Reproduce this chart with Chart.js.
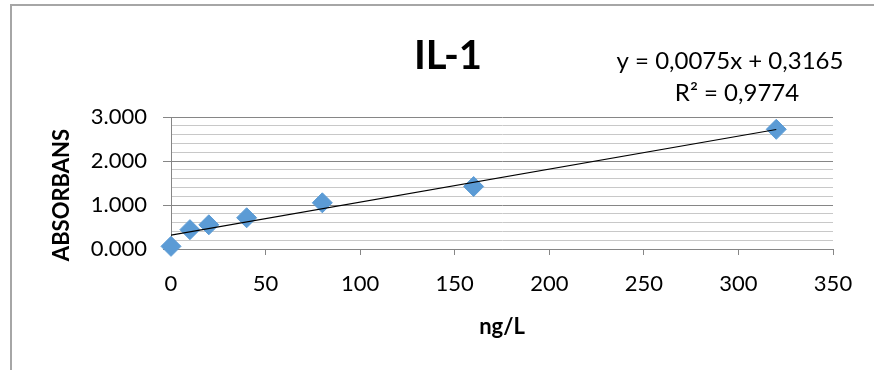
<!DOCTYPE html>
<html>
<head>
<meta charset="utf-8">
<title>IL-1</title>
<script src="https://cdn.jsdelivr.net/npm/chart.js@4.4.1/dist/chart.umd.min.js"></script>
<style>
    body { margin: 0; background: #fff; }
    #wrap { position: relative; width: 874px; height: 370px; overflow: hidden; }
    #frame { position: absolute; left: 10px; top: 4px; width: 900px; height: 400px;
             border-left: 2px solid #a6a6a6; border-top: 2px solid #a6a6a6; }
    canvas { position: absolute; left: 0; top: 0; }
</style>
</head>
<body>
<div id="wrap">
    <div id="frame"></div>
    <canvas id="il1-chart" width="874" height="370"></canvas>
</div>
<script>
    "use strict";

    // Data
    var concentrations = [0, 10, 20, 40, 80, 160, 320];
    var absorbance = [0.06, 0.44, 0.55, 0.71, 1.05, 1.42, 2.72];

    // Trendline as printed on the chart
    var trendSlope = 0.0075;
    var trendIntercept = 0.3165;
    var trendLabels = ["y = 0,0075x + 0,3165", "R\u00b2 = 0,9774"];

    var chartTitle = "IL-1";
    var yTitle = "ABSORBANS";
    var xTitle = "ng/L";

    var xTicks = [0, 50, 100, 150, 200, 250, 300, 350];
    var yMajorTicks = ["0.000", "1.000", "2.000", "3.000"];
    var yMinorPerMajor = 5;

    var FONT = "Lato";

    var points = concentrations.map(function (x, i) {
        return { x: x, y: absorbance[i] };
    });
    var xFirst = concentrations[0];
    var xLast = concentrations[concentrations.length - 1];
    var trendPoints = [
        { x: xFirst, y: trendIntercept + trendSlope * xFirst },
        { x: xLast, y: trendIntercept + trendSlope * xLast }
    ];

    // y ticks every 0.2, labels only on whole numbers
    var yTickValues = [];
    for (var i = 0; i <= (yMajorTicks.length - 1) * yMinorPerMajor; i++) {
        yTickValues.push(i / yMinorPerMajor);
    }

    function isMajor(v) {
        return Math.abs(v - Math.round(v)) < 1e-6;
    }

    // Title, y axis title and trendline label (placed like the Excel chart)
    var labelsPlugin = {
        id: "chartLabels",
        afterDraw: function (chart) {
            var ctx = chart.ctx;
            ctx.save();
            ctx.fillStyle = "#000";
            ctx.textAlign = "center";
            ctx.textBaseline = "middle";

            ctx.font = "bold 40px " + FONT;
            ctx.fillText(chartTitle, 448, 56);

            ctx.font = "24px " + FONT;
            ctx.fillText(trendLabels[0], 730, 61);
            ctx.fillText(trendLabels[1], 737, 93);

            ctx.translate(62, 195);
            ctx.rotate(-Math.PI / 2);
            ctx.font = "bold 22px " + FONT;
            ctx.fillText(yTitle, 0, 0);
            ctx.restore();
        }
    };

    var ctx1 = document.getElementById("il1-chart").getContext("2d");
    var myChart = new Chart(ctx1, {
        type: "scatter",
        data: {
            datasets: [{
                type: "line",
                label: "trend",
                data: trendPoints,
                borderColor: "#000",
                borderWidth: 1.2,
                pointRadius: 0,
                fill: false,
                order: 0
            }, {
                label: chartTitle,
                data: points,
                pointStyle: "rectRot",
                pointRadius: 10,
                backgroundColor: "#5b9bd5",
                borderColor: "#5b9bd5",
                borderWidth: 1,
                clip: false,
                order: 1
            }]
        },
        options: {
            responsive: false,
            animation: false,
            layout: { padding: { left: 12, right: 41, top: 117, bottom: 0 } },
            plugins: {
                legend: { display: false },
                tooltip: { enabled: false },
                title: { display: false }
            },
            scales: {
                x: {
                    type: "linear",
                    min: 0,
                    max: 350,
                    afterBuildTicks: function (scale) {
                        scale.ticks = xTicks.map(function (v) { return { value: v }; });
                    },
                    afterFit: function (scale) { scale.height = 121; },
                    grid: {
                        drawOnChartArea: false,
                        color: "#868686",
                        tickLength: 6
                    },
                    border: { color: "#868686" },
                    ticks: {
                        color: "#000",
                        padding: 16,
                        font: { family: FONT, size: 22 }
                    },
                    title: {
                        display: true,
                        text: xTitle,
                        color: "#000",
                        font: { family: FONT, size: 22, weight: "bold", lineHeight: 1.2 },
                        padding: { top: 0, bottom: 30 }
                    }
                },
                y: {
                    type: "linear",
                    min: 0,
                    max: 3,
                    afterBuildTicks: function (scale) {
                        scale.ticks = yTickValues.map(function (v) { return { value: v }; });
                    },
                    afterFit: function (scale) { scale.width = 159; },
                    ticks: {
                        autoSkip: false,
                        color: "#000",
                        padding: 16,
                        font: { family: FONT, size: 22 },
                        callback: function (value) {
                            return isMajor(value) ? yMajorTicks[Math.round(value)] : "";
                        }
                    },
                    grid: {
                        tickLength: 8,
                        color: function (c) {
                            return isMajor(c.tick.value) ? "#868686" : "#c8c8c8";
                        },
                        tickColor: function (c) {
                            return isMajor(c.tick.value) ? "#868686" : "rgba(0,0,0,0)";
                        }
                    },
                    border: { color: "#868686" }
                }
            }
        },
        plugins: [labelsPlugin]
    });
</script>
</body>
</html>
